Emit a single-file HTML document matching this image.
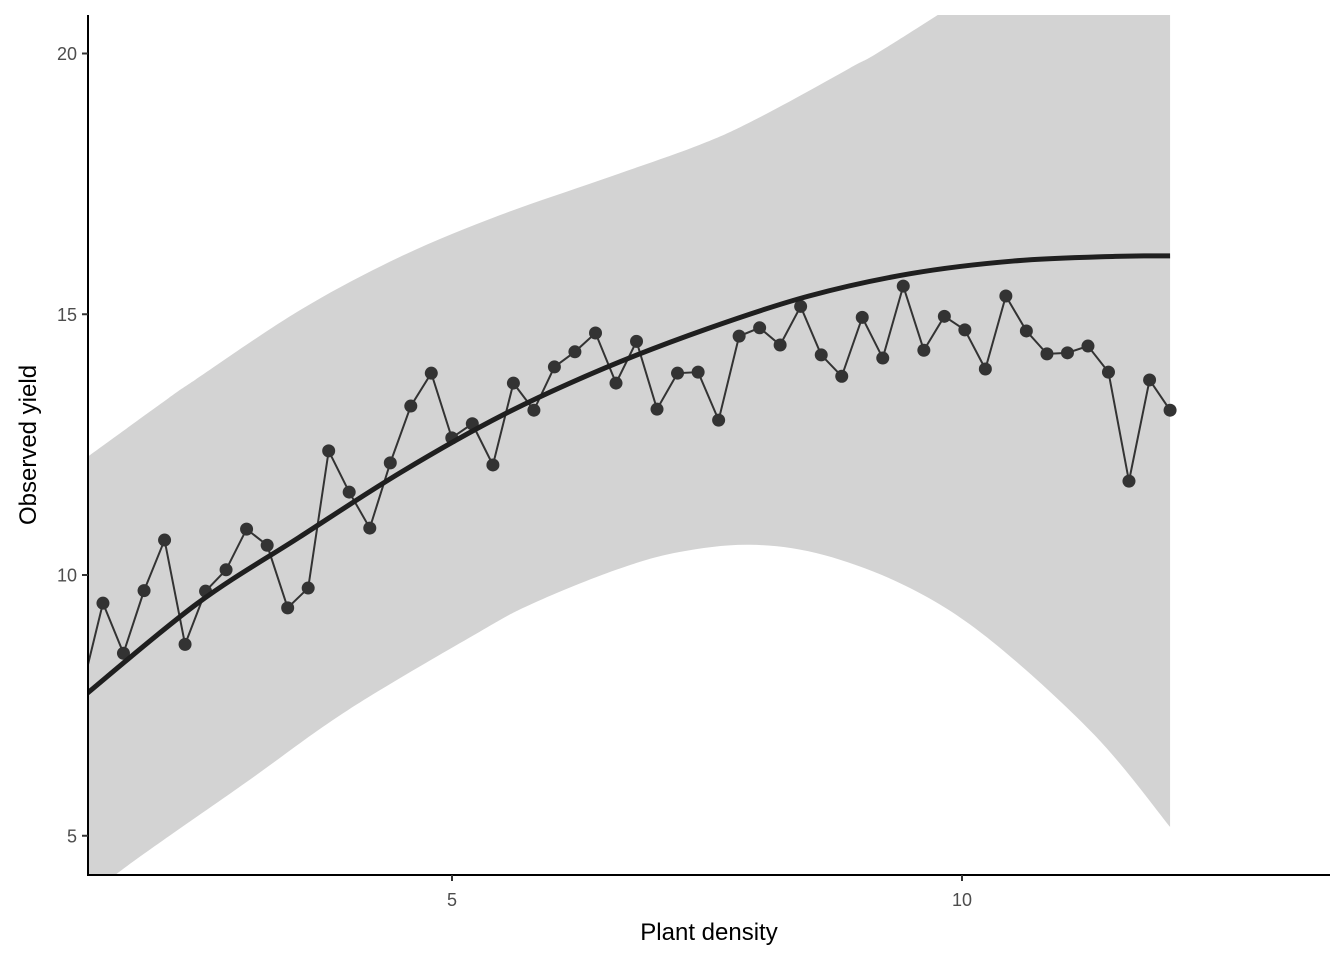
<!DOCTYPE html>
<html><head><meta charset="utf-8"><style>
html,body{margin:0;padding:0;background:#fff;}
svg{display:block;font-family:"Liberation Sans",Arial,sans-serif;}
</style></head><body>
<svg id="chart" width="1344" height="960">
<defs><clipPath id="clip"><rect x="88" y="15" width="1242" height="860"/></clipPath></defs>
<g id="plot" clip-path="url(#clip)"></g>
<g id="axes"></g>
<text x="709" y="940" text-anchor="middle" font-size="24">Plant density</text>
<text transform="translate(36,445) rotate(-90)" text-anchor="middle" font-size="24">Observed yield</text>
</svg>
<script>
const xs=[1.377,1.578,1.779,1.981,2.182,2.383,2.584,2.785,2.986,3.188,3.389,3.590,3.791,3.992,4.194,4.395,4.596,4.797,4.998,5.199,5.401,5.602,5.803,6.004,6.205,6.407,6.608,6.809,7.010,7.211,7.413,7.614,7.815,8.016,8.217,8.418,8.620,8.821,9.022,9.223,9.424,9.626,9.827,10.028,10.229,10.430,10.631,10.833,11.034,11.235,11.436,11.637,11.839,12.040];
const ys=[7.85,9.46,8.5,9.7,10.67,8.67,9.69,10.1,10.88,10.57,9.37,9.75,12.38,11.59,10.9,12.15,13.24,13.87,12.63,12.9,12.11,13.68,13.16,13.99,14.28,14.64,13.68,14.48,13.18,13.87,13.89,12.97,14.58,14.74,14.41,15.15,14.22,13.81,14.94,14.16,15.54,14.31,14.96,14.70,13.95,15.35,14.68,14.24,14.26,14.39,13.89,11.80,13.74,13.16];
const fitX=[1.38,2.5,3.5,4.5,5.5,6.5,7.5,8.5,9.5,10.5,11.5,12.04];
const fitY=[7.66,9.45,10.72,11.97,13.07,13.97,14.72,15.35,15.78,16.02,16.11,16.12];
const upperX=[1.38,2.22,2.48,3.51,4.49,5.47,6.45,7.43,8.02,8.9,9.45,12.04];
const upperY=[12.2,13.39,13.74,15.08,16.1,16.9,17.57,18.25,18.78,19.72,20.35,23.6];
const lowerX=[1.38,1.7,3.0,3.98,5.27,5.8,6.61,7.23,7.93,8.65,9.49,10.28,11.3,12.04];
const lowerY=[3.6,4.25,6.05,7.41,8.91,9.46,10.1,10.44,10.58,10.38,9.75,8.75,6.93,5.17];
const xTicks=[5,10];
const yTicks=[5,10,15,20];
const X=v=>452+(v-5)*102;
const Y=v=>575-(v-10)*52.15;
const NS="http://www.w3.org/2000/svg";
function mk(tag,attrs,parent){const e=document.createElementNS(NS,tag);for(const k in attrs)e.setAttribute(k,attrs[k]);parent.appendChild(e);return e;}
function smooth(pts,start){let d=start?'M'+pts[0]:'L'+pts[0];
for(let i=0;i<pts.length-1;i++){const p0=pts[Math.max(0,i-1)],p1=pts[i],p2=pts[i+1],p3=pts[Math.min(pts.length-1,i+2)];
d+='C'+(p1[0]+(p2[0]-p0[0])/6)+','+(p1[1]+(p2[1]-p0[1])/6)+' '+(p2[0]-(p3[0]-p1[0])/6)+','+(p2[1]-(p3[1]-p1[1])/6)+' '+p2[0]+','+p2[1];}
return d;}
const plot=document.getElementById('plot'),axes=document.getElementById('axes');
const up=upperX.map((x,i)=>[X(x),Y(upperY[i])]);
const lo=lowerX.map((x,i)=>[X(x),Y(lowerY[i])]).reverse();
const rib=mk('path',{d:smooth(up,true)+smooth(lo,false)+'Z',fill:'#d3d3d3'},plot);


const ln=mk('polyline',{points:xs.map((x,i)=>X(x)+','+Y(ys[i])).join(' '),fill:'none',stroke:'#333',"stroke-width":2},plot);


xs.forEach((x,i)=>{const c=mk('circle',{cx:X(x),cy:Y(ys[i]),r:6.5,fill:'#333'},plot);

});
const fit=mk('path',{d:smooth(fitX.map((x,i)=>[X(x),Y(fitY[i])]),true),fill:'none',stroke:'#1f1f1f',"stroke-width":5},plot);


const xa=mk('line',{x1:88,y1:875,x2:1330,y2:875,stroke:'#000',"stroke-width":2},axes);


const ya=mk('line',{x1:88,y1:15,x2:88,y2:876,stroke:'#000',"stroke-width":2},axes);


xTicks.forEach(t=>{mk('line',{x1:X(t),y1:875,x2:X(t),y2:881,stroke:'#333',"stroke-width":2},axes);
const tx=mk('text',{x:X(t),y:906,"text-anchor":"middle","font-size":18,fill:'#4d4d4d'},axes);tx.textContent=t;

});
yTicks.forEach(t=>{mk('line',{x1:82,y1:Y(t),x2:88,y2:Y(t),stroke:'#333',"stroke-width":2},axes);
const tx=mk('text',{x:77,y:Y(t)+6.5,"text-anchor":"end","font-size":18,fill:'#4d4d4d'},axes);tx.textContent=t;

});
</script>
</body></html>
